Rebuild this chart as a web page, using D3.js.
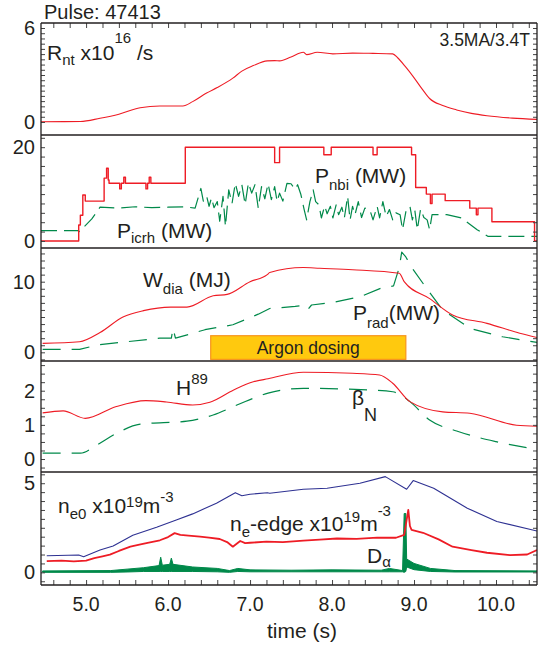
<!DOCTYPE html>
<html>
<head>
<meta charset="utf-8">
<script src="https://cdn.jsdelivr.net/npm/d3@7/dist/d3.min.js"></script>
<style>
  body { margin: 0; background: #fff; }
  svg { display: block; font-family: "Liberation Sans", Arial, sans-serif; }
  text { white-space: pre; }
</style>
</head>
<body>
<svg id="chart" width="538" height="652"></svg>
<script>
// ---------- data (time in s, values in panel units) ----------
const timeDomain = [4.45, 10.5];
const timeLabels = [5.0, 6.0, 7.0, 8.0, 9.0, 10.0];
const timeMinor = [4.6, 4.8, 5.0, 5.2, 5.4, 5.6, 5.8, 6.0, 6.2, 6.4, 6.6, 6.8, 7.0, 7.2, 7.4,
    7.6, 7.8, 8.0, 8.2, 8.4, 8.6, 8.8, 9.0, 9.2, 9.4, 9.6, 9.8, 10.0, 10.2, 10.4];

// panel 1: neutron rate
const rnt = [[4.45, 0.02], [4.93, 0.03], [5.17, 0.24], [5.4, 0.5], [5.66, 0.91], [5.9, 1.02],
    [6.18, 1.02], [6.3, 1.3], [6.47, 1.85], [6.6, 2.2], [6.79, 2.8], [6.9, 3.25], [7.04, 3.6],
    [7.21, 3.9], [7.3, 3.92], [7.36, 3.9], [7.5, 4.15], [7.65, 4.45], [7.69, 4.3], [7.82, 4.45],
    [8.01, 4.35], [8.25, 4.4], [8.5, 4.38], [8.74, 4.35], [8.8, 4.1], [8.9, 3.5], [8.99, 2.9],
    [9.1, 2.1], [9.19, 1.5], [9.35, 1.05], [9.52, 0.77], [9.7, 0.55], [9.89, 0.4], [10.2, 0.25],
    [10.5, 0.17]];

// panel 2: heating powers (MW)
const pnbi = [[4.45, 0], [4.91, 3.4], [4.93, 5.5], [4.96, 9.8], [4.99, 8.5], [5.22, 13.4],
    [5.25, 15.5], [5.27, 13.0], [5.28, 12.3], [5.41, 11.1], [5.43, 12.3], [5.46, 13.6],
    [5.48, 12.3], [5.73, 11.1], [5.75, 12.3], [5.77, 13.6], [5.79, 12.3], [6.21, 20],
    [7.30, 16.7], [7.36, 20], [7.90, 18.4], [7.99, 20], [8.50, 18.4], [8.55, 20], [8.97, 18.4],
    [9.02, 11.4], [9.15, 10.0], [9.20, 8.0], [9.22, 10.0], [9.38, 8.6], [9.68, 7.0], [9.76, 5.6],
    [9.78, 7.0], [9.95, 4.1], [10.47, 0], [10.5, 0]];
const picrh = [[4.45, 2.2], [4.9, 2.2], [4.92, 2.0], [5.07, 4.7], [5.17, 7.2], [5.4, 7.0],
    [5.6, 7.3], [5.8, 7.1], [6.0, 7.2], [6.2, 7.3], [6.33, 7.0], [6.40, 11.2], [6.43, 8.5],
    [6.47, 9.6], [6.50, 7.4], [6.53, 9.2], [6.56, 7.1], [6.6, 8.4], [6.63, 4.2], [6.67, 9.5],
    [6.70, 3.1], [6.74, 10.9], [6.78, 8.0], [6.82, 12.3], [6.86, 9.5], [6.9, 12.0], [6.94, 7.8],
    [6.98, 12.4], [7.02, 10.2], [7.06, 12.0], [7.10, 7.0], [7.14, 11.6], [7.18, 9.0],
    [7.22, 12.2], [7.26, 8.8], [7.30, 11.6], [7.33, 8.4], [7.36, 10.2], [7.40, 8.5],
    [7.45, 12.3], [7.50, 12.2], [7.55, 11.0], [7.58, 12.0], [7.62, 9.9], [7.66, 6.7],
    [7.69, 4.5], [7.73, 8.4], [7.77, 10.9], [7.80, 8.4], [7.84, 7.7], [7.87, 4.9], [7.91, 7.5],
    [7.94, 5.8], [7.98, 7.4], [8.01, 4.9], [8.05, 7.7], [8.08, 5.6], [8.12, 7.2], [8.15, 4.9],
    [8.19, 9.5], [8.22, 4.5], [8.25, 7.4], [8.28, 5.6], [8.32, 8.4], [8.36, 5.0], [8.40, 7.0],
    [8.46, 6.7], [8.5, 4.5], [8.55, 7.4], [8.58, 4.9], [8.62, 8.4], [8.66, 5.2], [8.70, 6.7],
    [8.74, 4.5], [8.78, 6.0], [8.83, 5.6], [8.86, 2.4], [8.9, 6.2], [8.95, 7.4], [8.98, 4.5],
    [9.01, 6.5], [9.04, 2.4], [9.08, 6.8], [9.12, 5.0], [9.16, 4.5], [9.19, 2.4], [9.22, 5.6],
    [9.40, 5.6], [9.58, 4.9], [9.77, 2.4], [9.9, 1.0], [10.5, 1.0]];

// panel 3: stored energy (MJ) and radiated power (MW)
const wdia = [[4.47, 1.27], [4.92, 1.5], [5.17, 2.8], [5.45, 5.0], [5.7, 5.9], [6.03, 6.4],
    [6.23, 6.4], [6.55, 8.0], [6.72, 8.2], [7.0, 10.0], [7.21, 11.0], [7.24, 11.3],
    [7.65, 12.0], [7.85, 11.9], [8.25, 11.7], [8.82, 11.2], [8.88, 10.0], [9.19, 7.6],
    [9.47, 5.3], [9.89, 4.1], [10.29, 2.7], [10.5, 2.1]];
const prad = [[4.47, 0.42], [4.92, 0.42], [5.17, 1.1], [5.9, 2.0], [6.04, 2.0], [6.06, 3.4],
    [6.09, 2.0], [6.45, 3.2], [6.79, 3.9], [7.1, 5.4], [7.24, 6.2], [7.55, 6.5], [7.62, 6.6],
    [7.7, 6.0], [7.75, 6.7], [8.03, 7.1], [8.35, 7.9], [8.6, 9.1], [8.75, 9.4], [8.82, 12.0],
    [8.85, 14.2], [8.9, 13.5], [8.99, 11.7], [9.15, 9.1], [9.35, 6.0], [9.68, 3.4],
    [10.08, 2.2], [10.5, 1.4]];
const argonWindow = [6.52, 8.9];
const argonLevels = [-1.0, 2.35];

// panel 4: confinement factor and normalised beta
const h89 = [[4.47, 1.35], [4.72, 1.41], [4.99, 1.19], [5.36, 1.53], [5.73, 1.71], [5.98, 1.67],
    [6.3, 1.58], [6.51, 1.66], [6.8, 2.02], [7.04, 2.26], [7.22, 2.35], [7.65, 2.54],
    [8.25, 2.51], [8.58, 2.46], [8.74, 2.22], [8.95, 1.68], [9.35, 1.38], [9.68, 1.34],
    [10.25, 0.99], [10.5, 0.96]];
const betaN = [[4.47, 0.17], [4.93, 0.17], [5.13, 0.41], [5.37, 0.75], [5.66, 1.02],
    [6.23, 1.11], [6.55, 1.29], [6.84, 1.58], [7.22, 1.93], [7.65, 2.07], [8.47, 2.02],
    [8.74, 1.97], [8.95, 1.68], [9.19, 1.14], [9.52, 0.82], [10.0, 0.51], [10.5, 0.28]];

// panel 5: densities (1e19 m^-3) and D-alpha
const ne0 = [[4.52, 0.93], [4.91, 0.97], [4.97, 0.88], [5.17, 1.25], [5.33, 1.48],
    [5.57, 2.08], [5.86, 2.53], [6.1, 2.94], [6.3, 3.28], [6.59, 3.88], [6.82, 4.47],
    [6.9, 4.3], [7.0, 4.38], [7.21, 4.47], [7.24, 4.44], [7.65, 4.66], [7.94, 4.72],
    [8.34, 5.0], [8.65, 5.37], [8.91, 4.66], [8.99, 5.15], [9.24, 4.72], [9.65, 3.6],
    [10.01, 2.85], [10.5, 2.32]];
const neEdge = [[4.52, 0.63], [4.7, 0.66], [4.85, 0.62], [5.0, 0.66], [5.1, 0.8], [5.2, 0.9],
    [5.29, 0.99], [5.4, 1.2], [5.54, 1.44], [5.65, 1.55], [5.75, 1.66], [5.9, 1.8], [6.0, 1.98],
    [6.08, 2.2], [6.15, 2.1], [6.25, 2.06], [6.39, 2.0], [6.5, 1.95], [6.63, 1.87], [6.72, 1.7],
    [6.79, 1.44], [6.88, 1.76], [6.94, 1.64], [7.0, 1.66], [7.2, 1.72], [7.4, 1.7],
    [7.65, 1.78], [7.85, 1.84], [8.06, 1.9], [8.3, 1.88], [8.55, 1.95], [8.78, 1.94],
    [8.88, 2.1], [8.93, 3.5], [8.95, 2.6], [8.97, 2.38], [9.11, 2.22], [9.3, 1.85],
    [9.47, 1.44], [9.7, 1.25], [9.89, 1.1], [10.17, 0.97], [10.38, 1.0], [10.5, 1.25]];
const dAlpha = [[4.47, 0.0, 0.08], [5.3, 0.0, 0.1], [5.5, 0.02, 0.18], [5.7, 0.05, 0.26],
    [5.89, 0.05, 0.38], [5.91, 0.05, 0.85], [5.93, 0.05, 0.4], [6.02, 0.05, 0.45],
    [6.04, 0.05, 0.8], [6.06, 0.05, 0.45], [6.3, 0.05, 0.3], [6.6, 0.03, 0.22],
    [6.75, 0.0, 0.1], [6.85, 0.05, 0.22], [7.0, 0.03, 0.14], [7.5, 0.03, 0.12],
    [8.0, 0.03, 0.14], [8.6, 0.03, 0.12], [8.7, 0.03, 0.22], [8.86, 0.03, 0.1],
    [8.88, 0.0, 3.3], [8.9, 0.05, 3.3], [8.91, 0.3, 0.75], [9.0, 0.15, 0.5],
    [9.2, 0.05, 0.22], [9.5, 0.02, 0.1], [10.5, 0.02, 0.08]];

// ---------- layout ----------
const RED = "#ee1c25", GREEN = "#00894a", BLUE = "#2e3192", INK = "#231f20";
const left = 41, right = 537;
const svg = d3.select("#chart");

const x = d3.scaleLinear().domain(timeDomain).range([left, right]);

const panels = [
    {top: 23, bottom: 135, domain: [-0.83, 6.32], minor: d3.range(0, 6.01, 1 / 3), labels: [0, 6]},
    {top: 135, bottom: 248, domain: [-1.5, 22.6], minor: d3.range(0, 22.1, 2), labels: [0, 20]},
    {top: 248, bottom: 361, domain: [-1.23, 14.77], minor: d3.range(-1, 14.1, 1), labels: [0, 10]},
    {top: 361, bottom: 472, domain: [-0.38, 2.87], minor: d3.range(-0.25, 2.8, 0.25), labels: [0, 1, 2]},
    {top: 472, bottom: 585, domain: [-0.71, 5.63], minor: d3.range(-0.5, 5.6, 0.5), labels: [0, 5]}
];

// text with sub/superscript parts: [string, size, baseline shift]
function rich(parent, px, py, parts, anchor) {
    const text = parent.append("text")
        .attr("x", px)
        .attr("y", py)
        .attr("fill", INK)
        .attr("text-anchor", anchor || "start");
    let prev = 0;
    parts.forEach(([str, size, shift]) => {
        const s = shift || 0;
        text.append("tspan")
            .attr("font-size", size)
            .attr("dy", s - prev)
            .text(str);
        prev = s;
    });
    return text;
}

panels.forEach((p, i) => {
    p.y = d3.scaleLinear().domain(p.domain).range([p.bottom, p.top]);
    const g = svg.append("g").attr("class", "panel");
    p.g = g;

    svg.append("clipPath").attr("id", `clip${i}`)
        .append("rect")
        .attr("x", left).attr("y", p.top)
        .attr("width", right - left).attr("height", p.bottom - p.top);
    p.plot = g.append("g").attr("clip-path", `url(#clip${i})`);

    // minor ticks, left and right, pointing inward
    const leftAxis = d3.axisLeft(p.y).tickValues(p.minor).tickFormat("").tickSizeInner(-4).tickSizeOuter(0);
    const rightAxis = d3.axisRight(p.y).tickValues(p.minor).tickFormat("").tickSizeInner(-4).tickSizeOuter(0);
    g.append("g").attr("transform", `translate(${left},0)`).call(leftAxis);
    g.append("g").attr("transform", `translate(${right},0)`).call(rightAxis);

    p.labels.forEach(v => rich(g, 35, p.y(v) + 7, [[String(v), 20]], "end"));
});

svg.selectAll(".panel .domain").remove();
svg.selectAll(".panel .tick line").attr("stroke", "#444").attr("stroke-width", 1);

// time ticks on top of first panel and bottom of last panel
svg.append("g")
    .attr("transform", `translate(0,${panels[0].top})`)
    .call(d3.axisTop(x).tickValues(timeMinor).tickFormat("").tickSizeInner(-5).tickSizeOuter(0));
svg.append("g")
    .attr("transform", `translate(0,${panels[4].bottom})`)
    .call(d3.axisBottom(x).tickValues(timeMinor).tickFormat("").tickSizeInner(-5).tickSizeOuter(0));
svg.selectAll(".domain").remove();
svg.selectAll(".tick line").attr("stroke", "#444");

timeLabels.forEach(t => rich(svg, x(t), 611, [[t.toFixed(1), 19.5]], "middle"));
rich(svg, 302, 638, [["time (s)", 21]], "middle");

// ---------- series ----------
function drawLine(p, data, color, opts = {}) {
    const line = d3.line()
        .x(d => x(d[0]))
        .y(d => p.y(d[1]))
        .curve(opts.curve || d3.curveLinear);
    p.plot.append("path")
        .datum(data)
        .attr("d", line)
        .attr("fill", "none")
        .attr("stroke", color)
        .attr("stroke-width", opts.width || 1.1)
        .attr("stroke-dasharray", opts.dash || null)
        .attr("stroke-linejoin", "round");
}

const [p1, p2, p3, p4, p5] = panels;
const dash = "18,11";

drawLine(p1, rnt, RED, {curve: d3.curveMonotoneX});

drawLine(p2, picrh, GREEN, {dash: "16,7", width: 1.2});
drawLine(p2, pnbi, RED, {curve: d3.curveStepAfter, width: 1.4});

// argon dosing window
p3.plot.append("rect")
    .attr("x", x(argonWindow[0]))
    .attr("y", p3.y(argonLevels[1]))
    .attr("width", x(argonWindow[1]) - x(argonWindow[0]))
    .attr("height", p3.y(argonLevels[0]) - p3.y(argonLevels[1]))
    .attr("fill", "#ffc90e")
    .attr("stroke", "#f7941d")
    .attr("stroke-width", 1.2);
rich(p3.g, (x(argonWindow[0]) + x(argonWindow[1])) / 2, 354, [["Argon dosing", 17.5]], "middle");

drawLine(p3, prad, GREEN, {dash: dash, width: 1.2});
drawLine(p3, wdia, RED, {curve: d3.curveMonotoneX});

drawLine(p4, betaN, GREEN, {dash: dash, width: 1.2, curve: d3.curveMonotoneX});
drawLine(p4, h89, RED, {curve: d3.curveMonotoneX});

p5.plot.append("path")
    .datum(dAlpha)
    .attr("d", d3.area().x(d => x(d[0])).y0(d => p5.y(d[1])).y1(d => p5.y(d[2])))
    .attr("fill", GREEN)
    .attr("stroke", GREEN)
    .attr("stroke-width", 1);
drawLine(p5, neEdge, RED, {width: 1.8});
drawLine(p5, ne0, BLUE, {width: 1.1});

// ---------- frame ----------
const frame = svg.append("g").attr("stroke", INK).attr("stroke-width", 1.3);
frame.append("line").attr("x1", left).attr("x2", left).attr("y1", panels[0].top).attr("y2", panels[4].bottom);
frame.append("line").attr("x1", right).attr("x2", right).attr("y1", panels[0].top).attr("y2", panels[4].bottom);
panels.forEach(p => {
    frame.append("line").attr("x1", left).attr("x2", right).attr("y1", p.top).attr("y2", p.top);
});
frame.append("line").attr("x1", left).attr("x2", right).attr("y1", panels[4].bottom).attr("y2", panels[4].bottom);

// ---------- annotations ----------
rich(svg, 44, 19, [["Pulse: 47413", 20]]);
rich(svg, 530, 46, [["3.5MA/3.4T", 17.5]], "end");
rich(svg, 47, 60, [["R", 21], ["nt", 15, 5], [" x10", 21], ["16", 15, -17], [" /s", 21]]);
rich(svg, 315, 183, [["P", 21], ["nbi", 15, 7], [" (MW)", 21]]);
rich(svg, 117, 238, [["P", 21], ["icrh", 15, 5], [" (MW)", 21]]);
rich(svg, 143, 287, [["W", 21], ["dia", 15, 7], [" (MJ)", 21]]);
rich(svg, 353, 320, [["P", 21], ["rad", 15, 8], ["(MW)", 21]]);
rich(svg, 176, 395, [["H", 21], ["89", 15, -11]]);
rich(svg, 352, 405, [["β", 21], ["N", 18, 16]]);
rich(svg, 58, 513, [["n", 21], ["e0", 15, 6], [" x10", 21], ["19", 15, -6], ["m", 21], ["-3", 15, -11]]);
rich(svg, 230, 531, [["n", 21], ["e", 15, 6], ["-edge x10", 21], ["19", 15, -9], ["m", 21], ["-3", 15, -15]]);
rich(svg, 367, 563, [["D", 21], ["α", 15, 4]]);
</script>
</body>
</html>
